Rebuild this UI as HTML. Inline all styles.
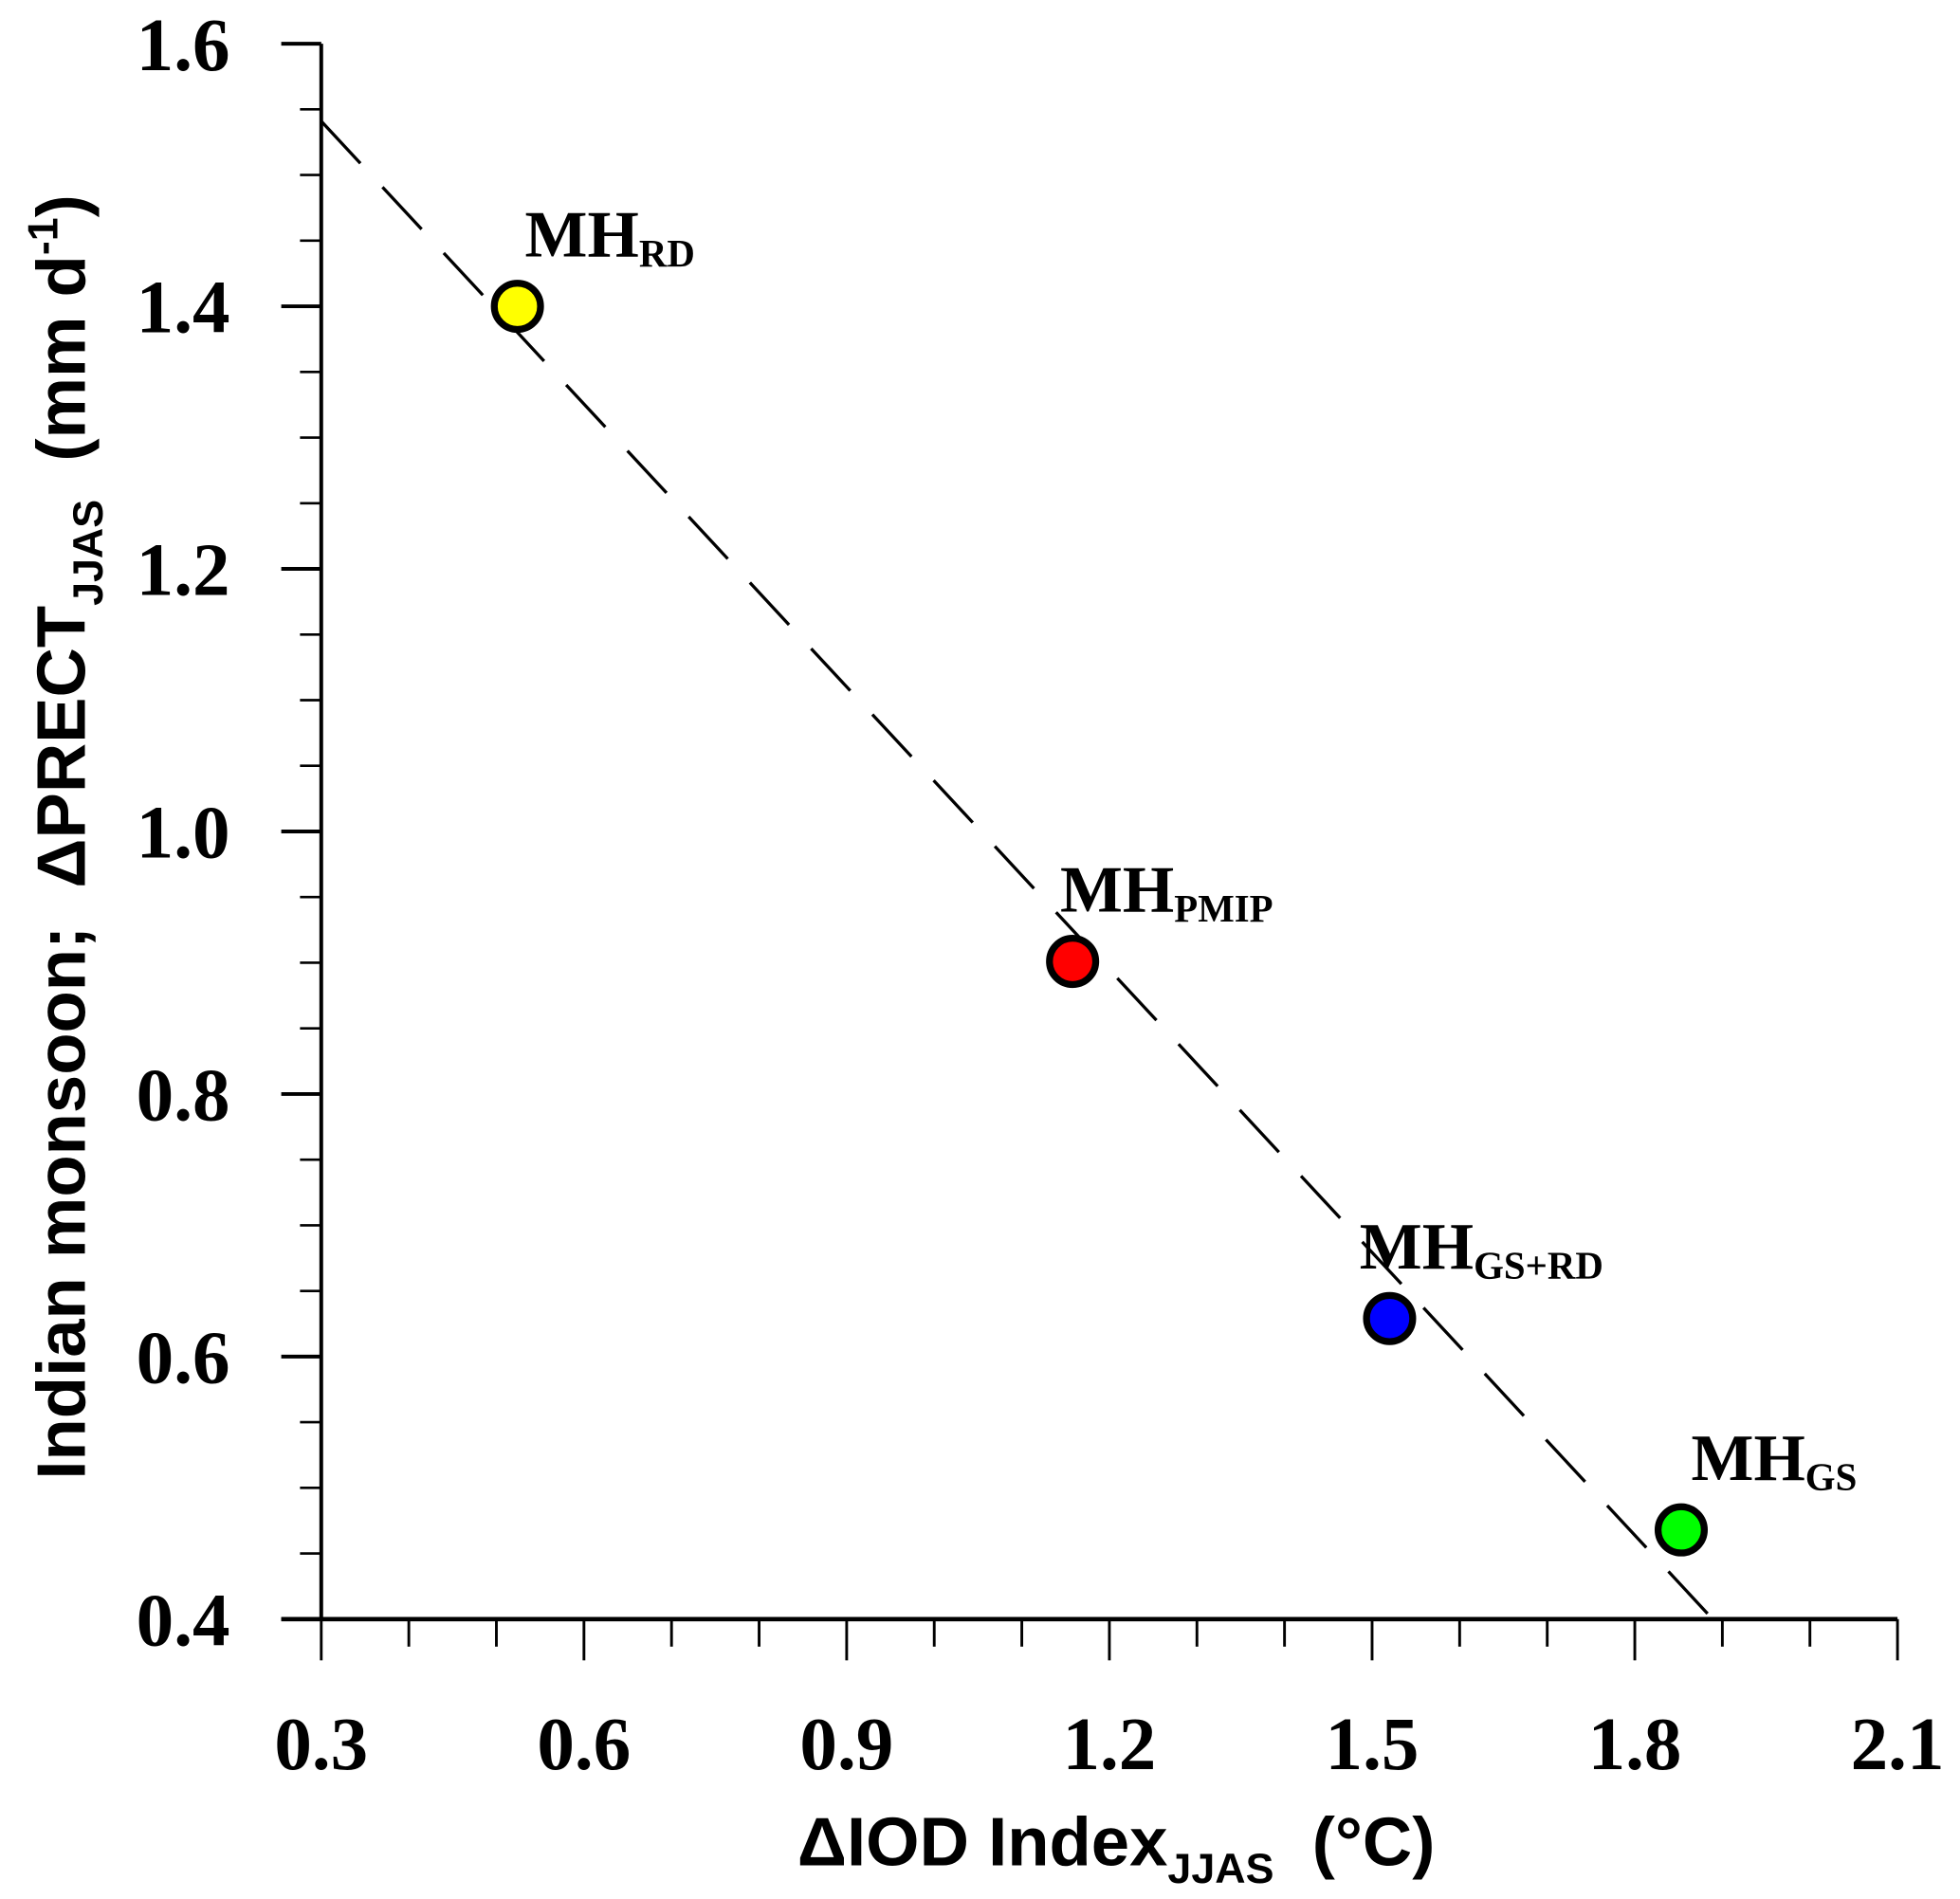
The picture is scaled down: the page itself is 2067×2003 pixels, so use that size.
<!DOCTYPE html>
<html><head><meta charset="utf-8"><style>
html,body{margin:0;padding:0;background:#fff}
svg{display:block}
.tk{font-family:"Liberation Serif",serif;font-weight:bold;font-size:60px}
.lb{font-family:"Liberation Serif",serif;font-weight:bold;font-size:53px}
.ax{font-family:"Liberation Sans",sans-serif;font-weight:bold;font-size:55px;white-space:pre}
</style></head><body>
<svg id="chart" width="2067" height="2003" viewBox="0 0 1568 1520" preserveAspectRatio="none" xmlns="http://www.w3.org/2000/svg" xml:space="preserve">
<g id="axes"></g>
<g id="fit"></g>
<g id="pts"></g>
<text class="ax" x="893" y="1493" text-anchor="middle">ΔIOD Index<tspan font-size="34" dy="14">JJAS</tspan><tspan dy="-14">  (°C)</tspan></text>
<text class="ax" transform="translate(68,670) rotate(-90)" text-anchor="middle">Indian monsoon;  ΔPRECT<tspan font-size="34" dy="14">JJAS</tspan><tspan dy="-14">  (mm d</tspan><tspan font-size="34" dy="-22">-1</tspan><tspan dy="22">)</tspan></text>
</svg>
<script>
const names = ["MH", "MH", "MH", "MH"];
const subs = ["RD", "PMIP", "GS+RD", "GS"];
const xVals = [0.524, 1.158, 1.520, 1.853];
const yVals = [1.400, 0.901, 0.629, 0.468];
const colors = ["#ffff00", "#ff0000", "#0000ff", "#00ff00"];
const xTicks = [0.3, 0.6, 0.9, 1.2, 1.5, 1.8, 2.1];
const xTickLabels = ["0.3", "0.6", "0.9", "1.2", "1.5", "1.8", "2.1"];
const yTicks = [0.4, 0.6, 0.8, 1.0, 1.2, 1.4, 1.6];
const yTickLabels = ["0.4", "0.6", "0.8", "1.0", "1.2", "1.4", "1.6"];
const fitX = [0.3, 1.889];
const fitY = [1.541, 0.4];
const labelDx = [6, -10, -24, 8];

const X0 = 257, X1 = 1518, Y0 = 1296, Y1 = 35;
const xs = v => X0 + (v - 0.3) / 1.8 * (X1 - X0);
const ys = v => Y0 - (v - 0.4) / 1.2 * (Y0 - Y1);
const NS = "http://www.w3.org/2000/svg";
function mk(tag, attrs, parent) {
  const e = document.createElementNS(NS, tag);
  for (const k in attrs) e.setAttribute(k, attrs[k]);
  parent.appendChild(e);
  return e;
}
const axes = document.getElementById('axes');
let l = mk('line', {x1: X0, y1: Y1, x2: X0, y2: Y0, stroke: '#000', 'stroke-width': 3}, axes);


l = mk('line', {x1: 225, y1: Y0, x2: X1, y2: Y0, stroke: '#000', 'stroke-width': 3.5}, axes);


for (let i = 0; i <= 18; i++) {
  const v = 0.3 + i * 0.1, x = xs(v), major = i % 3 === 0;
  const t = mk('line', {x1: x, y1: Y0, x2: x, y2: Y0 + (major ? 33 : 22), stroke: '#000', 'stroke-width': 2.2}, axes);
  
  
}
for (let i = 0; i <= 24; i++) {
  const v = 0.4 + i * 0.05, y = ys(v), major = i % 4 === 0;
  const t = mk('line', {x1: X0 - (major ? 32 : 17), y1: y, x2: X0, y2: y, stroke: '#000', 'stroke-width': major ? 3 : 2}, axes);
  
  
}
xTicks.forEach((v, i) => {
  const t = mk('text', {x: xs(v), y: 1416, 'text-anchor': 'middle', class: 'tk'}, axes);
  t.textContent = xTickLabels[i];
  
  
});
yTicks.forEach((v, i) => {
  const t = mk('text', {x: 184, y: ys(v) + 21, 'text-anchor': 'end', class: 'tk'}, axes);
  t.textContent = yTickLabels[i];
  
  
});
const fit = document.getElementById('fit');
const fl = mk('line', {x1: xs(fitX[0]), y1: ys(fitY[0]), x2: xs(fitX[1]), y2: ys(fitY[1]), stroke: '#000', 'stroke-width': 2.5, 'stroke-dasharray': '46 26'}, fit);


const pts = document.getElementById('pts');
xVals.forEach((v, i) => {
  const c = mk('circle', {cx: xs(v), cy: ys(yVals[i]), r: 18.5, fill: colors[i], stroke: '#000', 'stroke-width': 5.5}, pts);
  
  
  const t = mk('text', {x: xs(v) + labelDx[i], y: ys(yVals[i]) - 40, class: 'lb'}, pts);
  
  
  t.textContent = names[i];
  const s = mk('tspan', {'font-size': 31, dy: 8}, t);
  s.textContent = subs[i];
});
</script>
</body></html>
